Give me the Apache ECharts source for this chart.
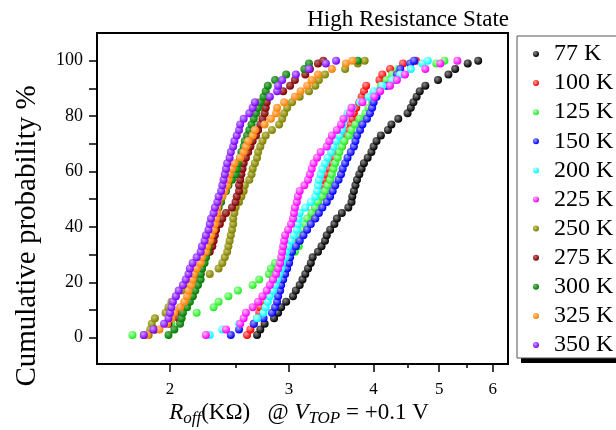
<!DOCTYPE html>
<html><head><meta charset="utf-8">
<script src="https://cdn.jsdelivr.net/npm/echarts@6/dist/echarts.min.js"></script>
<style>html,body{margin:0;padding:0;background:#fff}#c{width:616px;height:430px}</style>
</head><body><div id="c"></div>
<script>
// Cumulative probability levels (%)
const probLevels = [1,3,5,7,9,11,13,15,17,19,21,23,25,27,29,31,33,35,37,39,41,43,45,47,49,51,53,55,57,59,61,63,65,67,69,71,73,75,77,79,81,83,85,87,89,91,93,95,97,99,100];

// R_off (kOhm) at each probability level
const r77  = [2.69,2.72,2.76,2.85,2.89,2.92,2.97,3.04,3.07,3.11,3.14,3.17,3.20,3.23,3.25,3.31,3.35,3.39,3.41,3.45,3.50,3.53,3.59,3.67,3.71,3.72,3.74,3.76,3.78,3.81,3.84,3.87,3.92,3.97,4.00,4.04,4.10,4.20,4.25,4.35,4.49,4.54,4.58,4.63,4.68,4.77,4.98,5.16,5.28,5.51,5.71];
const r100 = [2.60,2.63,2.66,2.69,2.71,2.72,2.75,2.79,2.81,2.83,2.84,2.87,2.92,2.97,3.00,3.03,3.07,3.10,3.13,3.16,3.18,3.21,3.24,3.28,3.31,3.35,3.36,3.37,3.38,3.41,3.44,3.47,3.50,3.55,3.59,3.62,3.65,3.68,3.70,3.72,3.74,3.77,3.81,3.84,3.87,3.90,4.08,4.12,4.23,4.42,4.62];
const r125 = [1.76,1.90,2.01,2.08,2.19,2.32,2.36,2.44,2.52,2.65,2.71,2.80,2.82,2.86,2.96,3.06,3.10,3.11,3.13,3.15,3.17,3.19,3.24,3.28,3.31,3.36,3.39,3.42,3.45,3.47,3.49,3.51,3.54,3.56,3.59,3.62,3.68,3.71,3.76,3.81,3.89,3.93,3.98,4.02,4.06,4.10,4.18,4.26,4.35,4.95,5.09];
const r150 = [2.46,2.53,2.66,2.75,2.83,2.86,2.88,2.89,2.91,2.92,2.94,2.96,2.98,3.00,3.01,3.03,3.07,3.11,3.15,3.19,3.23,3.28,3.32,3.36,3.41,3.45,3.48,3.51,3.55,3.58,3.60,3.63,3.66,3.70,3.74,3.76,3.78,3.82,3.85,3.91,3.95,3.98,4.00,4.04,4.08,4.18,4.27,4.33,4.38,4.53,4.59];
const r200 = [2.29,2.39,2.53,2.69,2.75,2.77,2.79,2.81,2.84,2.86,2.88,2.90,2.92,2.93,2.96,2.97,2.99,3.02,3.05,3.08,3.09,3.10,3.11,3.17,3.23,3.28,3.30,3.31,3.32,3.34,3.36,3.39,3.42,3.46,3.49,3.52,3.56,3.59,3.60,3.62,3.66,3.72,3.82,3.93,4.00,4.12,4.26,4.38,4.54,4.72,4.81];
const r225 = [2.26,2.42,2.54,2.57,2.59,2.65,2.70,2.74,2.78,2.81,2.84,2.87,2.89,2.91,2.92,2.93,2.94,2.95,2.96,2.99,3.02,3.04,3.05,3.06,3.08,3.09,3.11,3.16,3.20,3.22,3.24,3.26,3.30,3.34,3.41,3.44,3.47,3.53,3.58,3.61,3.69,3.71,3.85,4.01,4.09,4.23,4.33,4.45,4.77,5.02,5.32];
const r250 = [1.86,1.87,1.88,1.90,1.97,1.99,2.01,2.04,2.08,2.13,2.19,2.29,2.36,2.39,2.41,2.43,2.44,2.45,2.46,2.47,2.48,2.48,2.49,2.50,2.53,2.55,2.57,2.58,2.62,2.64,2.65,2.67,2.69,2.70,2.72,2.74,2.77,2.83,2.90,2.93,2.95,2.98,3.03,3.11,3.21,3.28,3.32,3.39,3.63,3.79,3.88];
const r275 = [1.83,1.90,1.99,2.06,2.08,2.10,2.13,2.16,2.17,2.19,2.20,2.22,2.23,2.24,2.26,2.29,2.31,2.32,2.33,2.34,2.37,2.39,2.42,2.47,2.50,2.51,2.53,2.53,2.54,2.55,2.56,2.57,2.59,2.61,2.63,2.65,2.68,2.70,2.72,2.74,2.76,2.77,2.78,2.80,2.94,3.01,3.06,3.17,3.22,3.31,3.37];
const r300 = [1.99,2.03,2.07,2.08,2.09,2.12,2.14,2.16,2.18,2.20,2.22,2.22,2.23,2.25,2.26,2.27,2.28,2.28,2.29,2.31,2.32,2.34,2.35,2.36,2.38,2.39,2.42,2.44,2.47,2.50,2.51,2.52,2.54,2.55,2.57,2.58,2.60,2.62,2.64,2.66,2.68,2.70,2.72,2.75,2.77,2.79,2.86,2.97,3.16,3.21,3.79];
const r325 = [1.85,1.93,1.98,2.01,2.03,2.07,2.10,2.12,2.13,2.15,2.16,2.17,2.19,2.22,2.23,2.26,2.27,2.29,2.30,2.32,2.33,2.34,2.35,2.35,2.36,2.39,2.41,2.43,2.44,2.45,2.47,2.49,2.54,2.57,2.59,2.61,2.65,2.67,2.76,2.82,2.87,2.88,2.95,3.06,3.12,3.19,3.24,3.31,3.47,3.64,3.72];
const r350 = [1.83,1.89,1.96,1.99,2.00,2.01,2.02,2.04,2.06,2.09,2.11,2.13,2.14,2.16,2.19,2.22,2.23,2.25,2.26,2.28,2.29,2.30,2.32,2.33,2.35,2.36,2.38,2.39,2.40,2.41,2.42,2.43,2.45,2.46,2.48,2.49,2.51,2.53,2.54,2.57,2.62,2.65,2.67,2.81,2.88,2.89,2.93,3.07,3.21,3.40,3.52];

const seriesNames  = ['77 K','100 K','125 K','150 K','200 K','225 K','250 K','275 K','300 K','325 K','350 K'];
const seriesValues = [r77, r100, r125, r150, r200, r225, r250, r275, r300, r325, r350];
const seriesColors = ['#000000','#ff0000','#22ee22','#0000ff','#00ffff','#ff00ff','#808000','#800000','#007f00','#ff8000','#8000ff'];
const highlightColors = ['#8a8a8a','#ffa0a0','#b8ffb8','#a0a0ff','#d0ffff','#ffb8ff','#c8c870','#c07070','#70b870','#ffc890','#c8a0ff'];

// axis ticks
const xTickValues = [2,3,4,5,6];
const xMinorTickValues = [2.5,3.5,4.5,5.5];
const yTickValues = [0,10,20,30,40,50,60,70,80,90,100];
const yLabelValues = [0,20,40,60,80,100];
const xMin = 1.56, xMax = 6.32, yMin = -9.5, yMax = 110;

const FONT = '"Liberation Serif", "Times New Roman", serif';
const lg = Math.log10;

const chart = echarts.init(document.getElementById('c'), null, {renderer:'canvas'});

const series = seriesNames.map((name, k) => ({
  name, type: 'scatter', xAxisIndex: 0, yAxisIndex: 0,
  symbol: 'circle', symbolSize: 8,
  itemStyle: {
    color: new echarts.graphic.RadialGradient(0.38, 0.35, 0.62, [
      {offset: 0, color: highlightColors[k]}, {offset: 1, color: seriesColors[k]}
    ]),
    opacity: 1
  },
  emphasis: {disabled: true},
  data: probLevels.map((p, i) => [lg(seriesValues[k][i]), p]),
  z: 2 + k
}));

const baseX = {
  type: 'value', min: lg(xMin), max: lg(xMax), gridIndex: 0, position: 'bottom',
  splitLine: {show: false}
};

chart.setOption({
  animation: false,
  backgroundColor: '#fff',
  grid: {left: 97, right: 108, top: 33, bottom: 66, show: true, borderColor: '#000', borderWidth: 2, backgroundColor: 'transparent'},
  xAxis: [
    Object.assign({}, baseX, {
      axisLine: {show: true, onZero: false, lineStyle: {color: '#000', width: 2}},
      axisTick: {show: true, inside: false, length: 8, lineStyle: {color: '#000', width: 1.5}, customValues: xTickValues.map(lg)},
      axisLabel: {show: true, customValues: xTickValues.map(lg), margin: 17, color: '#000', fontFamily: FONT, fontSize: 17,
        formatter: v => String(Math.round(Math.pow(10, v)))}
    }),
    Object.assign({}, baseX, {
      axisLine: {show: false, onZero: false},
      axisTick: {show: true, inside: false, length: 4, lineStyle: {color: '#000', width: 1.5}, customValues: xMinorTickValues.map(lg)},
      axisLabel: {show: false}
    })
  ],
  yAxis: {
    type: 'value', min: yMin, max: yMax,
    splitLine: {show: false},
    axisLine: {show: true, onZero: false, lineStyle: {color: '#000', width: 2}},
    axisTick: {show: true, inside: false, length: 8, lineStyle: {color: '#000', width: 1.5}, customValues: yTickValues},
    axisLabel: {show: true, customValues: yLabelValues, margin: 14, color: '#000', fontFamily: FONT, fontSize: 18}
  },
  legend: {
    orient: 'vertical', left: 517, top: 36, z: 10,
    padding: [6, 30, 1, 16], itemGap: 5.1, itemWidth: 6, itemHeight: 6, icon: 'circle',
    selectedMode: false,
    textStyle: {fontFamily: FONT, fontSize: 24, lineHeight: 24, color: '#000', padding: [0, 0, 0, 10]},
    borderColor: '#555', borderWidth: 1, backgroundColor: '#fff',
    data: seriesNames
  },
  graphic: [
    {type: 'rect', z: 1, shape: {x: 521, y: 40, width: 140, height: 323}, style: {fill: '#000'}},
    {type: 'text', x: 509, y: 20, style: {text: 'High Resistance State', font: '23px ' + FONT, fill: '#000', align: 'right', verticalAlign: 'middle'}},
    {type: 'text', x: 27, y: 236, rotation: Math.PI / 2, style: {text: 'Cumulative probability %', font: '29px ' + FONT, fill: '#000', align: 'center', verticalAlign: 'middle'}},
    {type: 'text', x: 299, y: 413, style: {
      text: '{i|R}{s|off}{n|(KΩ)   @ }{i|V}{s|TOP}{n| = +0.1 V}',
      align: 'center', verticalAlign: 'middle',
      rich: {
        n: {fontFamily: FONT, fontSize: 23, lineHeight: 28, verticalAlign: 'middle', fill: '#000'},
        i: {fontFamily: FONT, fontSize: 23, fontStyle: 'italic', lineHeight: 28, verticalAlign: 'middle', fill: '#000'},
        s: {fontFamily: FONT, fontSize: 17, fontStyle: 'italic', lineHeight: 17, verticalAlign: 'bottom', fill: '#000'}
      }
    }}
  ],
  series
});
</script></body></html>
